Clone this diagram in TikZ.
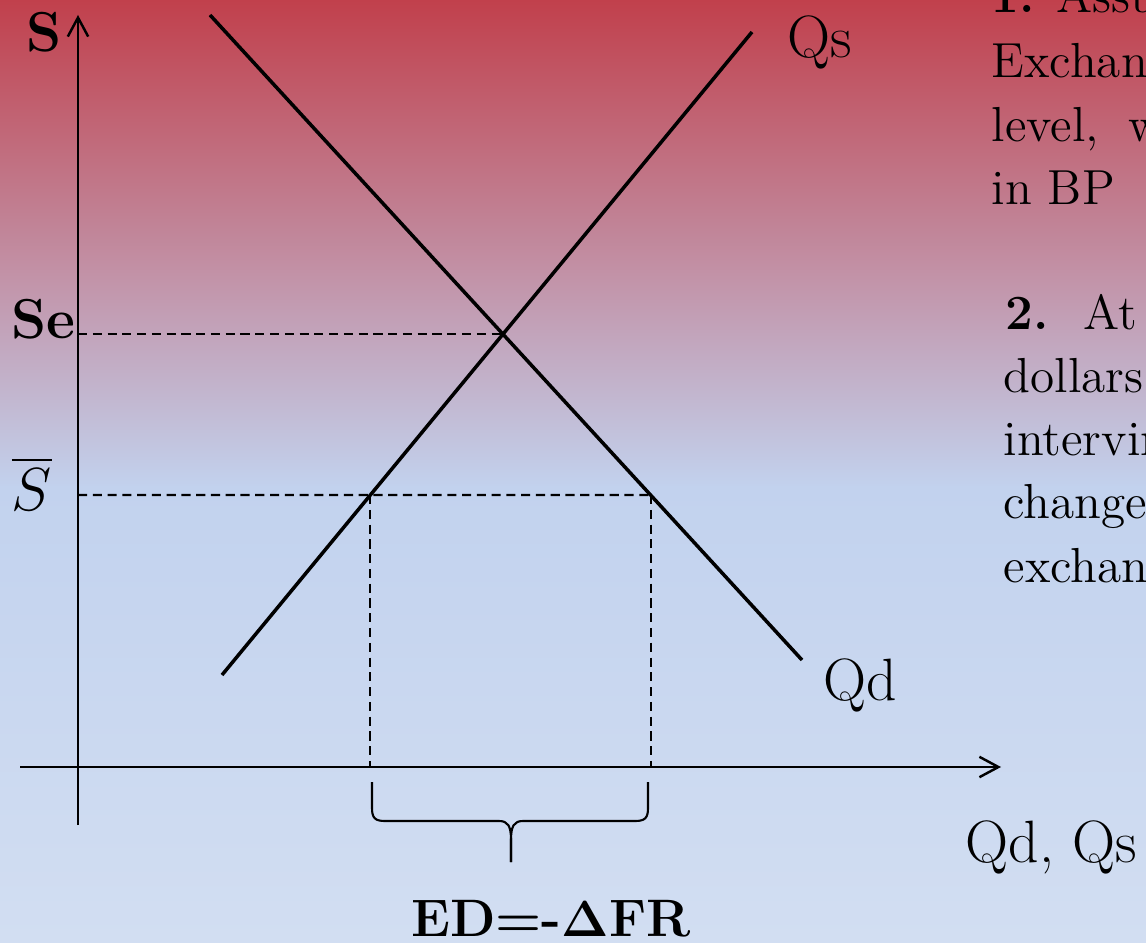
\documentclass[tikz,border=0pt]{standalone}
\usepackage{amsmath}
\usepackage[no-math]{fontspec}
\usetikzlibrary{arrows.meta}
\definecolor{bgtop}{RGB}{193,64,76}
\definecolor{bgmid}{RGB}{194,210,238}
\definecolor{bgbot}{RGB}{210,222,242}

\begin{document}
\begin{tikzpicture}[
  x=0.01cm, y=-0.01cm,
  axis/.style={line width=0.7pt,-{Straight Barb[length=5.4pt,width=5.8pt]}},
  curve/.style={line width=1pt},
  guide/.style={line width=0.6pt,dash pattern=on 2.6pt off 1.6pt},
  brc/.style={line width=0.6pt},
  lbl/.style={font=\fontsize{17}{20}\selectfont,inner sep=0pt},
  lblb/.style={font=\fontsize{16}{19}\selectfont\bfseries,inner sep=0pt},
  note/.style={font=\fontsize{14}{17}\selectfont,inner sep=0pt,anchor=base west},
]
\useasboundingbox (0,0) rectangle (1146,943);
\clip (0,0) rectangle (1146,943);

% background
\shade[top color=bgtop,bottom color=bgmid] (0,0) rectangle (1146,488);
\shade[top color=bgmid,bottom color=bgbot] (0,486) rectangle (1146,943);

% axes
\coordinate (yb) at (78,825);
\coordinate (yt) at (78,15);
\coordinate (xl) at (20,767);
\coordinate (xr) at (1001,767);
\draw[axis] (yb) -- (yt);
\draw[axis] (xl) -- (xr);

% supply and demand
\coordinate (qsA) at (222,675);
\coordinate (qsB) at (752,32);
\coordinate (qdA) at (210,15);
\coordinate (qdB) at (802,660);
\draw[curve] (qsA) -- (qsB);
\draw[curve] (qdA) -- (qdB);

% guides
\coordinate (sbL) at (78,495);
\coordinate (sbR) at (900,495);
\coordinate (eq) at (intersection of qsA--qsB and qdA--qdB);
\coordinate (seL) at (78,332);
\coordinate (sbQs) at (intersection of qsA--qsB and sbL--sbR);
\coordinate (sbQd) at (intersection of qdA--qdB and sbL--sbR);
\coordinate (ftQs) at (sbQs |- xl);
\coordinate (ftQd) at (sbQd |- xl);
\draw[guide] (seL |- eq) -- (eq);
\draw[guide] (sbL) -- (sbQd);
\draw[guide] (sbQs) -- (ftQs);
\draw[guide] (sbQd) -- (ftQd);

% brace
\coordinate (brL) at (372,782);
\coordinate (brR) at (648,782);
\coordinate (brT) at (511,862);
\draw[brc] (brL) -- (372,808) .. controls (372,818) and (375,821) .. (385,821)
  -- (499,821) .. controls (508,821) and (511,826) .. (511,840) -- (brT);
\draw[brc] (brR) -- (648,808) .. controls (648,818) and (645,821) .. (635,821)
  -- (523,821) .. controls (514,821) and (511,826) .. (511,840) -- (brT);

% labels
\node[lblb,anchor=base] (lS) at (44,52) {S};
\node[lbl,anchor=base west] (lQs) at (787,58) {Qs};
\node[lblb,anchor=base east] (lSe) at (76,338) {Se};
\node[lbl,anchor=base] (lSb) at (32,510) {$\overline{S}$};
\node[lbl,anchor=base west] (lQd) at (823,700) {Qd};
\node[lbl,anchor=base west] (lQdQs) at (965,862) {Qd, Qs};
\node[lblb,anchor=base,font=\fontsize{15}{18}\selectfont\bfseries] (lED) at (551,936) {ED=-$\mathbf{\Delta}$FR};

% notes
\node[note] (n1a) at (991,13) {\textbf{1.} Assu};
\node[note] (n1b) at (991,78) {Exchan};
\node[note] (n1c) at (991,142) {level,\hspace{0.6em}w};
\node[note] (n1d) at (991,205) {in BP};
\node[note] (n2a) at (1005,330) {\textbf{2.}\hspace{0.7em}At};
\node[note] (n2b) at (1003,392) {dollars,};
\node[note] (n2c) at (1003,455) {intervin};
\node[note] (n2d) at (1003,518) {change};
\node[note] (n2e) at (1003,582) {exchan};
\end{tikzpicture}
\end{document}
